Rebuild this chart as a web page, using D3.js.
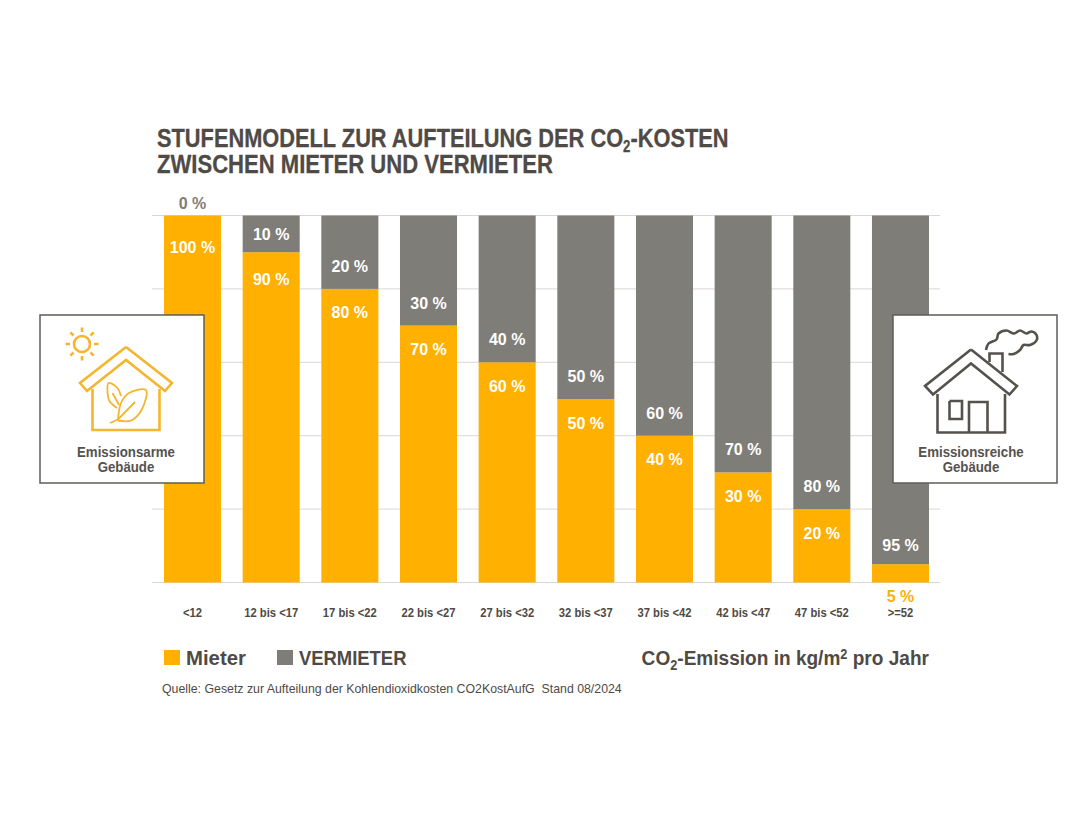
<!DOCTYPE html>
<html>
<head>
<meta charset="utf-8">
<script src="https://cdn.jsdelivr.net/npm/d3@7"></script>
<style>
body { margin: 0; background: #fff; }
text { font-family: "Liberation Sans", sans-serif; }
</style>
</head>
<body>
<svg id="chart" width="1092" height="820"></svg>
<script>
var categories = ['<12', '12 bis <17', '17 bis <22', '22 bis <27', '27 bis <32', '32 bis <37', '37 bis <42', '42 bis <47', '47 bis <52', '>=52'];
var mieter = [100, 90, 80, 70, 60, 50, 40, 30, 20, 5];
var vermieter = [0, 10, 20, 30, 40, 50, 60, 70, 80, 95];
var yTicks = [0, 20, 40, 60, 80, 100];

var orange = '#ffb000', grey = '#7f7d78', dark = '#4f4a45';

var rows = categories.map(function (c, i) {
	return { cat: c, mieter: mieter[i], vermieter: vermieter[i] };
});
var stacked = d3.stack().keys(['mieter', 'vermieter'])(rows);

var svg = d3.select('#chart');
var x = d3.scaleBand().domain(categories).range([164, 929]).paddingInner(0.275);
var y = d3.scaleLinear().domain([0, 100]).range([582.5, 215.5]);

// squeeze text horizontally around its own x, the original font is condensed
function squeeze(sel, k) {
	sel.attr('transform', function () {
		var px = +this.getAttribute('x') || 0;
		return 'translate(' + px + ',0) scale(' + k + ',1) translate(' + (-px) + ',0)';
	});
}

// grid
svg.append('g').selectAll('line')
	.data(yTicks)
	.enter()
	.append('line')
	.attr('x1', 152).attr('x2', 940)
	.attr('y1', function (d) { return y(d); })
	.attr('y2', function (d) { return y(d); })
	.attr('stroke', '#d9d8d6');

// bars
svg.append('g').selectAll('g')
	.data(stacked)
	.enter()
	.append('g')
	.attr('fill', function (s) { return s.key == 'mieter' ? orange : grey; })
	.selectAll('rect')
	.data(function (s) { return s; })
	.enter()
	.append('rect')
	.attr('x', function (d) { return x(d.data.cat); })
	.attr('width', x.bandwidth())
	.attr('y', function (d) { return y(d[1]); })
	.attr('height', function (d) { return y(d[0]) - y(d[1]); });

// value labels
function mid(d) { return x(d.cat) + x.bandwidth() / 2; }

svg.append('g').selectAll('text')
	.data(rows)
	.enter()
	.append('text')
	.attr('x', mid)
	.attr('y', function (d, i) {
		if (d.mieter < 10) return y(0) + 19;
		return y(d.mieter) + (i == 0 ? 37 : i == 1 ? 33 : 29.5);
	})
	.attr('text-anchor', 'middle')
	.attr('font-size', 16).attr('font-weight', 700)
	.attr('fill', function (d) { return d.mieter < 10 ? orange : '#fff'; })
	.text(function (d) { return d.mieter + ' %'; });

svg.append('g').selectAll('text')
	.data(rows)
	.enter()
	.append('text')
	.attr('x', mid)
	.attr('y', function (d) {
		if (d.vermieter == 0) return y(100) - 7;
		if (d.mieter < 10) return y(d.mieter) - 13.5;
		return Math.max(y(d.mieter) - 17, y(100) + 24);
	})
	.attr('text-anchor', 'middle')
	.attr('font-size', 16).attr('font-weight', 700)
	.attr('fill', function (d) { return d.vermieter == 0 ? grey : '#fff'; })
	.text(function (d) { return d.vermieter + ' %'; });

// category axis
var xAxis = svg.append('g')
	.attr('transform', 'translate(0,' + y(0) + ')')
	.call(d3.axisBottom(x).tickSize(0).tickPadding(26));
xAxis.select('.domain').remove();
xAxis.selectAll('text')
	.attr('font-family', null)
	.attr('font-size', 12.5).attr('font-weight', 700).attr('fill', dark)
	.call(squeeze, 0.9);

// title
var title = svg.append('g').attr('fill', dark).attr('stroke', dark).attr('stroke-width', 0.3)
	.attr('font-size', 26.5).attr('font-weight', 700);
var t1 = title.append('text').attr('x', 157).attr('y', 147.5);
t1.append('tspan').text('STUFENMODELL ZUR AUFTEILUNG DER CO');
t1.append('tspan').attr('font-size', 16).attr('dy', 5).text('2');
t1.append('tspan').attr('dy', -5).text('-KOSTEN');
t1.call(squeeze, 0.823);
title.append('text').attr('x', 157).attr('y', 173.5).text('ZWISCHEN MIETER UND VERMIETER')
	.call(squeeze, 0.833);

// legend
var legend = [['Mieter', orange, 164, 0.97], ['VERMIETER', grey, 277, 0.877]];
legend.forEach(function (l) {
	svg.append('rect').attr('x', l[2]).attr('y', 650).attr('width', 16).attr('height', 15).attr('fill', l[1]);
	svg.append('text').attr('x', l[2] + 22).attr('y', 665)
		.attr('font-size', 21).attr('font-weight', 700).attr('fill', dark)
		.text(l[0])
		.call(squeeze, l[3]);
});

var unit = svg.append('text').attr('x', 929).attr('y', 665)
	.attr('text-anchor', 'end')
	.attr('font-size', 21).attr('font-weight', 700).attr('fill', dark);
unit.append('tspan').text('CO');
unit.append('tspan').attr('font-size', 14).attr('dy', 5).text('2');
unit.append('tspan').attr('dy', -5).text('-Emission in kg/m');
unit.append('tspan').attr('font-size', 14).attr('dy', -6).text('2');
unit.append('tspan').attr('dy', 6).text(' pro Jahr');
unit.call(squeeze, 0.908);

svg.append('text').attr('x', 162).attr('y', 693)
	.attr('font-size', 12.5).attr('fill', dark)
	.style('white-space', 'pre')
	.text('Quelle: Gesetz zur Aufteilung der Kohlendioxidkosten CO2KostAufG  Stand 08/2024')
	.call(squeeze, 0.987);

// icon boxes
function box(x0, lines) {
	var g = svg.append('g');
	g.append('rect').attr('x', x0).attr('y', 315).attr('width', 164).attr('height', 168)
		.attr('fill', '#fff').attr('stroke', '#5f5c58').attr('stroke-width', 1.5);
	lines.forEach(function (t, i) {
		g.append('text').attr('x', x0 + 86 - (x0 > 500 ? 8 : 0)).attr('y', 457 + i * 15)
			.attr('text-anchor', 'middle')
			.attr('font-size', 14.5).attr('font-weight', 700).attr('fill', '#55524e')
			.text(t)
			.call(squeeze, 0.915);
	});
	return g;
}

var straight = d3.line();
var smooth = d3.line().curve(d3.curveCatmullRom);

function strokes(g, colour, width, paths) {
	g.append('g').attr('fill', 'none').attr('stroke', colour).attr('stroke-width', width)
		.attr('stroke-linejoin', 'miter')
		.selectAll('path')
		.data(paths)
		.enter()
		.append('path')
		.attr('d', function (d) { return d; });
}

// low emission house
var left = box(40, ['Emissionsarme', 'Gebäude']);
var rays = d3.range(8).map(function (i) {
	var a = i * Math.PI / 4;
	return straight([[82 + 12 * Math.cos(a), 344 + 12 * Math.sin(a)], [82 + 16.5 * Math.cos(a), 344 + 16.5 * Math.sin(a)]]);
});
strokes(left, '#f4b62e', 2.6, rays.concat([
	straight([[126, 347], [80, 383], [87, 391], [126, 360], [165, 391], [172, 383], [126, 347]]),
	straight([[92.5, 389], [92.5, 430], [159.5, 430], [159.5, 389]])
]));
strokes(left, '#f4b62e', 1.8, [
	smooth([[117, 408], [109.5, 401], [107.5, 392], [108.5, 383], [117, 387.5], [121, 396]]),
	smooth([[118, 420.5], [131, 420.5], [141.5, 410], [146, 390], [129, 393], [121, 403], [118, 420.5]]),
	straight([[110, 423], [118, 419.5], [135, 402]]),
	straight([[112.5, 393], [119, 405]])
]);
left.append('circle').attr('cx', 82).attr('cy', 344).attr('r', 8)
	.attr('fill', 'none').attr('stroke', '#f4b62e').attr('stroke-width', 2.6);

// high emission house
var right = box(893, ['Emissionsreiche', 'Gebäude']);
strokes(right, '#55524e', 2.6, [
	straight([[971, 349.5], [925, 386], [933, 394.5], [971, 363.5], [1009.5, 394.5], [1017, 386], [971, 349.5]]),
	straight([[937.5, 394], [937.5, 432.5], [1005, 432.5], [1005, 394]]),
	straight([[949.5, 401], [962, 401], [962, 419], [949.5, 419], [949.5, 401]]),
	straight([[969, 432.5], [969, 402], [987.5, 402], [987.5, 432.5]]),
	straight([[989.5, 362], [989.5, 353.5], [1002.5, 353.5], [1002.5, 372]]),
	smooth([[986, 350], [988.5, 343.5], [996.5, 339.5], [998.5, 333.5], [1006.5, 330.5], [1014, 333.5], [1020, 330.5], [1026.5, 333.5], [1031.5, 331.5], [1036.5, 335], [1036.5, 340.5], [1030, 345], [1023.5, 345], [1020, 350], [1013.5, 354], [1008.5, 354]])
]);
</script>
</body>
</html>
